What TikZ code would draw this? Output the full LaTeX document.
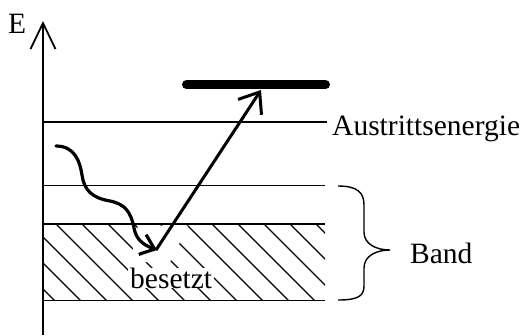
\documentclass[tikz,border=0pt]{standalone}
\usepackage{fontspec}
\setmainfont{Liberation Serif}
\usetikzlibrary{arrows.meta}
\begin{document}
\begin{tikzpicture}[x=1pt,y=-1pt,
  level/.style={line width=1.3pt},
  hatchline/.style={line width=1.3pt},
  lbl/.style={anchor=base west, inner sep=0pt, font=\fontsize{29.5}{35}\selectfont},
  axisline/.style={line width=1.8pt, -{Straight Barb[length=26pt,width=25pt,line width=1.8pt]}},
  wavearrow/.style={line width=3.2pt, line cap=round, -{Straight Barb[length=13pt,width=21pt]}},
  jumparrow/.style={line width=3pt, -{Straight Barb[length=18pt,width=28pt]}},
  heavy/.style={line width=9pt, line cap=round},
  bracestyle/.style={line width=1.4pt}]
\useasboundingbox (0,0) rectangle (522,335);
% hatched occupied band
\begin{scope}
  \clip (43,224) rectangle (325,300.5);
  \foreach \c in {-22,4,...,316} \draw[hatchline] (\c,224) -- ++(80,80);
\end{scope}
\fill[white] (138,225.5) -- (188,225.5) -- (170,262) -- (130,262) -- cycle;
% energy levels
\coordinate (a0) at (43,122);   \coordinate (a1) at (327,122);
\coordinate (b0) at (43,185.5); \coordinate (b1) at (325,185.5);
\coordinate (c0) at (43,224);   \coordinate (c1) at (325,224);
\coordinate (d0) at (43,300.5); \coordinate (d1) at (325,300.5);
\draw[level] (a0) -- (a1);
\draw[level] (b0) -- (b1);
\draw[level] (c0) -- (c1);
\draw[level] (d0) -- (d1);
% texts
\node[lbl] (E) at (8,33) {E};
\node[lbl] (aus) at (332,135) {Austrittsenergie};
\node[lbl] (band) at (410,263) {Band};
\node[lbl, fill=white, inner xsep=2pt] (bes) at (128,288) {besetzt};
% axis
\coordinate (ax0) at (43,335);
\coordinate (ax1) at (43,21);
\draw[axisline] (ax0) -- (ax1);
% brace
\draw[bracestyle] (338,186) .. controls (358,186) and (364,193) .. (364,205) -- (364,232)
  .. controls (364,244) and (376,250) .. (390,250)
  .. controls (376,250) and (364,256) .. (364,268) -- (364,286)
  .. controls (364,296) and (358,300) .. (338,300);
% photon (wavy) arrow
\coordinate (w0) at (56,146);
\coordinate (v) at (157,250);
\draw[wavearrow] (w0) .. controls (75,146) and (80,162) .. (82,175)
  .. controls (84,190) and (92,198) .. (110,201)
  .. controls (125,204) and (131,212) .. (134,228)
  .. controls (136,238) and (141,244) .. (v);
% excitation arrow
\coordinate (s0) at (156,250);
\coordinate (top) at (261,90);
\draw[jumparrow] (s0) -- (top);
% heavy vacuum level
\coordinate (h0) at (186.5,84.5);
\coordinate (h1) at (325.5,84.5);
\draw[heavy] (h0) -- (h1);
\end{tikzpicture}
\end{document}
